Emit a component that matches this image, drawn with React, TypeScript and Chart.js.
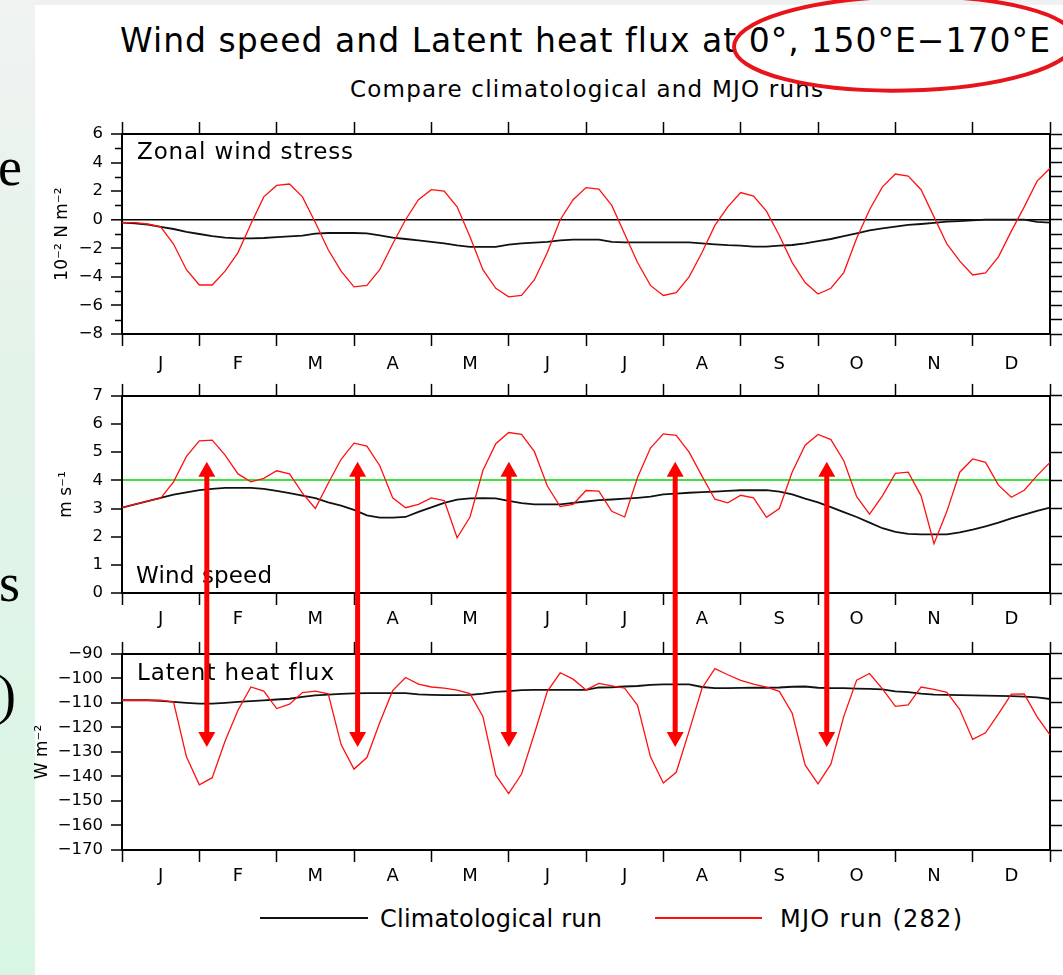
import React, { useEffect, useRef } from 'react';
import { Chart, registerables } from 'chart.js';

Chart.register(...registerables);

const FONT = '"DejaVu Sans", "Liberation Sans", sans-serif';
const SERIF = '"Liberation Serif", "DejaVu Serif", serif';
const PAGE_W = 1063;
const PAGE_H = 975;
const PLOT_LEFT = 122;
const PLOT_RIGHT = 1050;
const RED = '#ff1010';
const BLACK = '#111111';
const GREEN = '#3de43d';

// 360-day model calendar, pentad output
const MONTHS = ['J', 'F', 'M', 'A', 'M', 'J', 'J', 'A', 'S', 'O', 'N', 'D'];
const PENTAD_DAYS = Array.from({ length: 73 }, (_, i) => i * 5);

// Zonal wind stress (10^-2 N m^-2)
const stressMJO = [
  -0.2, -0.2, -0.3, -0.5, -1.7, -3.5, -4.57, -4.57, -3.6, -2.3,
  -0.3, 1.6, 2.4, 2.5, 1.6, -0.2, -2.1, -3.6, -4.7, -4.6,
  -3.5, -1.7, 0, 1.4, 2.1, 2.0, 0.9, -1.2, -3.5, -4.8,
  -5.4, -5.3, -4.2, -2.3, 0, 1.4, 2.25, 2.15, 1.0, -1.0,
  -3.0, -4.6, -5.3, -5.1, -4.0, -2.3, -0.4, 0.9, 1.9, 1.65,
  0.6, -1.1, -3.0, -4.4, -5.2, -4.8, -3.7, -1.3, 0.7, 2.3,
  3.2, 3.06, 2.1, 0.2, -1.7, -2.9, -3.87, -3.73, -2.6, -0.8,
  0.9, 2.7, 3.6,
];
const stressClim = [
  -0.2, -0.25, -0.35, -0.5, -0.65, -0.85, -1.0, -1.15, -1.25, -1.3,
  -1.3, -1.28, -1.22, -1.17, -1.12, -0.97, -0.93, -0.93, -0.93, -0.95,
  -1.1, -1.25, -1.35, -1.45, -1.55, -1.65, -1.8, -1.9, -1.9, -1.9,
  -1.75, -1.65, -1.6, -1.55, -1.45, -1.4, -1.4, -1.4, -1.55, -1.58,
  -1.58, -1.58, -1.58, -1.58, -1.58, -1.65, -1.72, -1.78, -1.82, -1.88,
  -1.88, -1.82, -1.77, -1.65, -1.5, -1.35, -1.15, -0.95, -0.75, -0.6,
  -0.48, -0.36, -0.3, -0.22, -0.14, -0.1, -0.05, 0, 0, 0,
  0, -0.15, -0.2,
];

// Wind speed (m s^-1)
const windMJO = [
  3.03, 3.15, 3.26, 3.37, 3.95, 4.85, 5.4, 5.43, 4.9, 4.23,
  3.95, 4.07, 4.34, 4.23, 3.55, 3.0, 3.9, 4.75, 5.32, 5.22,
  4.52, 3.38, 3.03, 3.15, 3.38, 3.28, 1.96, 2.7, 4.35, 5.3,
  5.7, 5.63, 5.02, 3.8, 3.07, 3.15, 3.64, 3.62, 2.9, 2.7,
  4.1, 5.15, 5.65, 5.6, 5.0, 4.15, 3.33, 3.2, 3.47, 3.38,
  2.69, 3.0, 4.3, 5.25, 5.63, 5.45, 4.7, 3.42, 2.8, 3.45,
  4.25, 4.29, 3.45, 1.75, 2.9, 4.29, 4.76, 4.64, 3.83, 3.4,
  3.65, 4.17, 4.64,
];
const windClim = [
  3.03, 3.15, 3.26, 3.38, 3.49, 3.57, 3.65, 3.7, 3.73, 3.73,
  3.73, 3.7, 3.63, 3.55, 3.46, 3.37, 3.22, 3.1, 2.95, 2.76,
  2.68, 2.68, 2.7, 2.88, 3.04, 3.2, 3.32, 3.36, 3.37, 3.36,
  3.27, 3.19, 3.15, 3.15, 3.15, 3.2, 3.25, 3.3, 3.32, 3.35,
  3.38, 3.42, 3.5, 3.53, 3.56, 3.58, 3.6, 3.63, 3.65, 3.65,
  3.65, 3.6, 3.5, 3.35, 3.22, 3.05, 2.87, 2.7, 2.5, 2.3,
  2.17, 2.1, 2.08, 2.08, 2.08, 2.15, 2.25, 2.37, 2.5, 2.65,
  2.78, 2.92, 3.03,
];

// Latent heat flux (W m^-2)
const lhfMJO = [
  -108.9, -108.9, -108.9, -108.9, -109.7, -132, -143.4, -140.5, -125.5, -113,
  -103.5, -105.2, -112.3, -110.5, -105.8, -105.2, -106.3, -127, -137, -132.3,
  -118, -105, -99.6, -102.3, -103.5, -104, -104.8, -106.2, -115.5, -139.5,
  -147, -139, -122.5, -105.3, -97.7, -100.3, -104.7, -102, -103, -104,
  -111, -132, -142.7, -138.3, -121.5, -104, -96, -98.5, -100.8, -102.3,
  -103.6, -105.3, -114.2, -135.3, -143, -135, -115.5, -100.7, -98, -104.3,
  -111.4, -110.8, -103.5, -104.5, -105.7, -112.7, -124.9, -122.2, -114.5, -106.4,
  -106.3, -115.7, -123,
];
const lhfClim = [
  -108.9, -108.9, -108.9, -109.2, -109.6, -110, -110.3, -110.3, -110, -109.6,
  -109.3, -109, -108.6, -108.3, -107.5, -106.9, -106.6, -106.3, -106.1, -106,
  -106, -106, -106, -106.5, -106.7, -106.8, -106.8, -106.7, -106.2, -105.5,
  -105.2, -104.8, -104.7, -104.7, -104.7, -104.7, -104.7, -103.7, -103.6, -103.3,
  -103.1, -102.6, -102.4, -102.4, -102.4, -103.5, -104, -104, -103.9, -103.8,
  -103.8, -103.7, -103.4, -103.3, -103.8, -104, -104, -104.2, -104.3, -104.5,
  -105.3, -105.6, -106.2, -106.6, -106.7, -106.8, -106.9, -107, -107.1, -107.2,
  -107.4, -107.7, -108.4,
];

// Annotation arrows (day of year, wind-speed tip, latent-heat tip)
const ARROW_DAYS = [32.9, 91.4, 150.1, 214.6, 273.4];
const ARROW_TOP_WIND = 4.66;
const ARROW_BOTTOM_LHF = -128;

type Panel = {
  top: number; height: number; topAxis: number; bottomAxis: number;
  min: number; max: number; labelStep: number; minorStep: number; rightStep: number;
  refValue: number | null; refColor: string; refWidth: number;
  label: string; labelDx: number; labelDy: number; labelFromBottom: boolean; labelWidth: number;
  unit: string; unitCenter: number; monthPad: number;
  mjo: number[]; clim: number[];
};

const PANELS: Panel[] = [
  {
    top: 108, height: 270, topAxis: 26, bottomAxis: 44,
    min: -8, max: 6, labelStep: 2, minorStep: 1, rightStep: 1,
    refValue: 0, refColor: '#000000', refWidth: 1.6,
    label: 'Zonal wind stress', labelDx: 15, labelDy: 25, labelFromBottom: false, labelWidth: 216,
    unit: '10\u207B\u00B2 N m\u207B\u00B2', unitCenter: 62, monthPad: 8,
    mjo: stressMJO, clim: stressClim,
  },
  {
    top: 378, height: 258, topAxis: 14, bottomAxis: 43,
    min: 0, max: 7, labelStep: 1, minorStep: 0, rightStep: 1,
    refValue: 4, refColor: GREEN, refWidth: 2,
    label: 'Wind speed', labelDx: 14, labelDy: -10, labelFromBottom: true, labelWidth: 136,
    unit: 'm s\u207B\u00B9', unitCenter: 66, monthPad: 3.5,
    mjo: windMJO, clim: windClim,
  },
  {
    top: 636, height: 260, topAxis: 14, bottomAxis: 46,
    min: -170, max: -90, labelStep: 10, minorStep: 0, rightStep: 10,
    refValue: null, refColor: '#000000', refWidth: 0,
    label: 'Latent heat flux', labelDx: 15, labelDy: 26, labelFromBottom: false, labelWidth: 197,
    unit: 'W m\u207B\u00B2', unitCenter: 42, monthPad: 3.5,
    mjo: lhfMJO, clim: lhfClim,
  },
];

const fmt = (v: number) => (v < 0 ? '\u2212' + Math.abs(v) : String(v));

const stepTicks = (min: number, max: number, step: number) => {
  const out: { value: number }[] = [];
  for (let v = min; v <= max + 1e-9; v += step) out.push({ value: Math.round(v * 1000) / 1000 });
  return out;
};

function panelPlugin(p: Panel) {
  return {
    id: 'panelExtras',
    afterDraw(chart: any) {
      const { ctx, chartArea, scales } = chart;
      ctx.save();
      if (p.minorStep) {
        ctx.strokeStyle = '#000';
        ctx.lineWidth = 1.5;
        ctx.beginPath();
        for (let v = p.min + p.minorStep; v < p.max; v += p.labelStep) {
          const y = Math.round(scales.y.getPixelForValue(v)) + 0.5;
          ctx.moveTo(chartArea.left - 7, y);
          ctx.lineTo(chartArea.left, y);
        }
        ctx.stroke();
      }
      ctx.font = `23px ${FONT}`;
      ctx.fillStyle = '#000';
      ctx.textBaseline = 'alphabetic';
      ctx.textAlign = 'left';
      const w = ctx.measureText(p.label).width;
      (ctx as any).letterSpacing = `${(p.labelWidth - w) / (p.label.length - 1)}px`;
      const y = p.labelFromBottom ? chartArea.bottom + p.labelDy : chartArea.top + p.labelDy;
      ctx.fillText(p.label, chartArea.left + p.labelDx, y);
      ctx.restore();
    },
  };
}

function makeConfig(p: Panel): any {
  const pts = (arr: number[]) => arr.map((v, i) => ({ x: PENTAD_DAYS[i], y: v }));
  const monthTicks = (scale: any) => {
    scale.ticks = stepTicks(0, 360, 15);
  };
  const monthTickColor = (c: any) => (c.tick && c.tick.value % 30 === 0 ? '#000' : 'rgba(0,0,0,0)');
  const border = { display: true, color: '#000', width: 2 };
  return {
    type: 'line',
    data: {
      datasets: [
        { label: 'MJO run (282)', data: pts(p.mjo), borderColor: RED, borderWidth: 1.3, pointRadius: 0, tension: 0 },
        { label: 'Climatological run', data: pts(p.clim), borderColor: BLACK, borderWidth: 1.8, pointRadius: 0, tension: 0 },
      ],
    },
    options: {
      animation: false,
      responsive: false,
      maintainAspectRatio: false,
      events: [],
      layout: { padding: { left: 0, right: PAGE_W - PLOT_RIGHT, top: 0, bottom: 0 } },
      plugins: { legend: { display: false }, tooltip: { enabled: false }, title: { display: false } },
      scales: {
        x: {
          type: 'linear', position: 'bottom', min: 0, max: 360,
          afterBuildTicks: monthTicks,
          afterFit: (s: any) => { s.height = p.bottomAxis; },
          ticks: {
            autoSkip: false, maxRotation: 0, minRotation: 0, padding: p.monthPad,
            font: { family: FONT, size: 18 }, color: '#000',
            callback: (v: number) => (v % 30 === 15 ? MONTHS[(v - 15) / 30] : ''),
          },
          grid: { drawOnChartArea: false, drawTicks: true, tickLength: 12, tickWidth: 1.5, tickColor: monthTickColor, color: monthTickColor },
          border,
        },
        xTop: {
          type: 'linear', position: 'top', min: 0, max: 360,
          afterBuildTicks: monthTicks,
          afterFit: (s: any) => { s.height = p.topAxis; },
          ticks: { display: false },
          grid: { drawOnChartArea: false, drawTicks: true, tickLength: 12, tickWidth: 1.5, tickColor: monthTickColor, color: monthTickColor },
          border,
        },
        y: {
          type: 'linear', position: 'left', min: p.min, max: p.max,
          afterBuildTicks: (s: any) => { s.ticks = stepTicks(p.min, p.max, p.labelStep); },
          afterFit: (s: any) => { s.width = PLOT_LEFT; },
          ticks: { padding: 8, font: { family: FONT, size: 16.5 }, color: '#000', callback: (v: number) => fmt(v) },
          grid: {
            drawOnChartArea: true, drawTicks: true, tickLength: 11, tickWidth: 1.5, tickColor: '#000',
            color: (c: any) => (p.refValue !== null && c.tick && c.tick.value === p.refValue ? p.refColor : 'rgba(0,0,0,0)'),
            lineWidth: (c: any) => (p.refValue !== null && c.tick && c.tick.value === p.refValue ? p.refWidth : 0),
          },
          border,
          title: {
            display: true, text: p.unit, color: '#000',
            font: { family: FONT, size: 17 },
            padding: { top: p.unitCenter - 10, bottom: 0 },
          },
        },
        yR: {
          type: 'linear', position: 'right', min: p.min, max: p.max,
          afterBuildTicks: (s: any) => { s.ticks = stepTicks(p.min, p.max, p.rightStep); },
          afterFit: (s: any) => { s.width = 0; },
          ticks: { display: false },
          grid: { drawOnChartArea: false, drawTicks: true, tickLength: 12, tickWidth: 1.5, tickColor: '#000', color: 'rgba(0,0,0,0)' },
          border,
        },
      },
    },
    plugins: [panelPlugin(p)],
  };
}

const measureCtx = typeof document !== 'undefined' ? document.createElement('canvas').getContext('2d') : null;
function spacingFor(text: string, size: number, width: number) {
  if (!measureCtx) return 0;
  measureCtx.font = `${size}px ${FONT}`;
  const w = measureCtx.measureText(text).width;
  return (width - w) / Math.max(1, text.length - 1);
}

function FitText(props: { text: string; x: number; baseline: number; size: number; width: number }) {
  const { text, x, baseline, size, width } = props;
  const ls = spacingFor(text, size, width);
  return (
    <div
      style={{
        position: 'absolute', left: x, top: baseline - 0.846 * size, fontFamily: FONT, fontSize: size,
        lineHeight: `${size}px`, letterSpacing: `${ls}px`, whiteSpace: 'nowrap', color: '#000',
      }}
    >
      {text}
    </div>
  );
}

function drawArrow(ctx: CanvasRenderingContext2D, x: number, yTop: number, yBot: number) {
  const headL = 15;
  const headW = 8.5;
  ctx.fillStyle = '#ff0000';
  ctx.fillRect(x - 2.5, yTop + headL - 1, 5, yBot - yTop - 2 * headL + 2);
  ctx.beginPath();
  ctx.moveTo(x, yTop);
  ctx.lineTo(x - headW, yTop + headL);
  ctx.lineTo(x + headW, yTop + headL);
  ctx.closePath();
  ctx.fill();
  ctx.beginPath();
  ctx.moveTo(x, yBot);
  ctx.lineTo(x - headW, yBot - headL);
  ctx.lineTo(x + headW, yBot - headL);
  ctx.closePath();
  ctx.fill();
}

export default function App() {
  const r1 = useRef<HTMLCanvasElement>(null);
  const r2 = useRef<HTMLCanvasElement>(null);
  const r3 = useRef<HTMLCanvasElement>(null);
  const ov = useRef<HTMLCanvasElement>(null);

  useEffect(() => {
    const refs = [r1, r2, r3];
    const charts = PANELS.map((p, i) => new Chart(refs[i].current as HTMLCanvasElement, makeConfig(p)));
    const ctx = (ov.current as HTMLCanvasElement).getContext('2d') as CanvasRenderingContext2D;
    ctx.clearRect(0, 0, PAGE_W, PAGE_H);
    const ch2: any = charts[1];
    const ch3: any = charts[2];
    ARROW_DAYS.forEach((d) => {
      const x = ch2.scales.x.getPixelForValue(d);
      const yTop = PANELS[1].top + ch2.scales.y.getPixelForValue(ARROW_TOP_WIND);
      const yBot = PANELS[2].top + ch3.scales.y.getPixelForValue(ARROW_BOTTOM_LHF);
      drawArrow(ctx, x, yTop, yBot);
    });
    // highlight ellipse around the location in the title
    ctx.strokeStyle = '#e8141b';
    ctx.lineWidth = 4;
    ctx.beginPath();
    ctx.ellipse(905, 43.5, 171, 47, -0.02, 0, Math.PI * 2);
    ctx.stroke();
    return () => charts.forEach((c) => c.destroy());
  }, []);

  return (
    <div style={{ position: 'absolute', left: 0, top: 0, width: PAGE_W, height: PAGE_H, background: '#ffffff', overflow: 'hidden' }}>
      <div style={{ position: 'absolute', left: 0, top: 0, width: 35, height: PAGE_H, background: 'linear-gradient(180deg, #f0f3f2 0%, #e3f3e8 40%, #d8f6e4 100%)' }} />
      <div style={{ position: 'absolute', left: 35, top: 0, width: PAGE_W - 35, height: 5, background: '#eef1f0' }} />
      <div style={{ position: 'absolute', left: -2, top: 140, fontFamily: SERIF, fontSize: 54, lineHeight: '54px' }}>e</div>
      <div style={{ position: 'absolute', left: -1, top: 556, fontFamily: SERIF, fontSize: 54, lineHeight: '54px' }}>s</div>
      <div style={{ position: 'absolute', left: -2, top: 668, fontFamily: SERIF, fontSize: 54, lineHeight: '54px' }}>)</div>

      <FitText text={'Wind speed and Latent heat flux at 0\u00B0, 150\u00B0E\u2212170\u00B0E'} x={120} baseline={52} size={33} width={930} />
      <FitText text="Compare climatological and MJO runs" x={350} baseline={97} size={23} width={473} />

      {PANELS.map((p, i) => (
        <canvas
          key={i}
          ref={[r1, r2, r3][i]}
          width={PAGE_W}
          height={p.height}
          style={{ position: 'absolute', left: 0, top: p.top, width: PAGE_W, height: p.height }}
        />
      ))}

      <div style={{ position: 'absolute', left: 260, top: 917, width: 108, height: 2, background: BLACK }} />
      <FitText text="Climatological run" x={380} baseline={927} size={24} width={222} />
      <div style={{ position: 'absolute', left: 655, top: 917, width: 107, height: 2, background: RED }} />
      <FitText text="MJO run (282)" x={780} baseline={927} size={24} width={182} />

      <canvas
        ref={ov}
        width={PAGE_W}
        height={PAGE_H}
        style={{ position: 'absolute', left: 0, top: 0, width: PAGE_W, height: PAGE_H, pointerEvents: 'none' }}
      />
    </div>
  );
}
